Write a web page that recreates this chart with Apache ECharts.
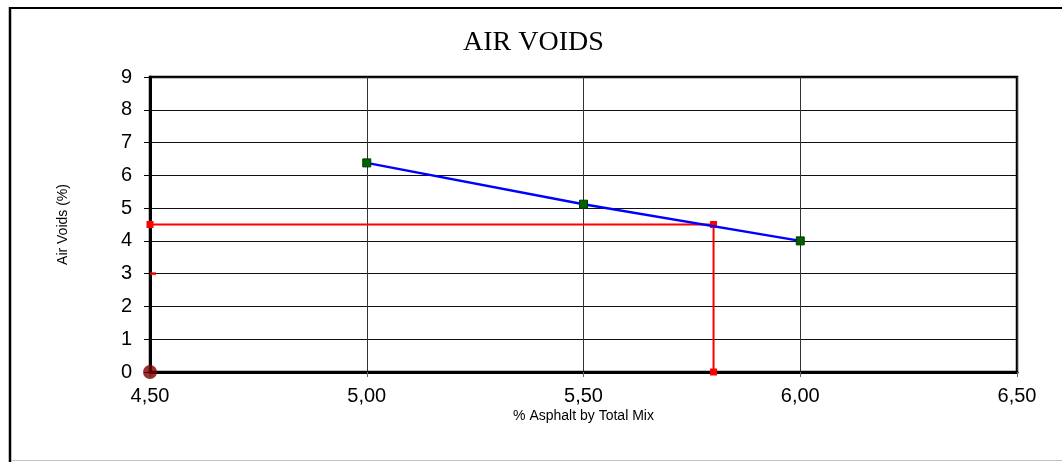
<!DOCTYPE html>
<html>
<head>
<meta charset="utf-8">
<script src="https://cdn.jsdelivr.net/npm/echarts@6/dist/echarts.min.js"></script>
<style>
  html, body { margin: 0; padding: 0; background: #fff; }
  #chart { width: 1062px; height: 462px; }
</style>
</head>
<body>
<div id="chart"></div>
<script>
// Asphalt content (% by total mix) and measured air voids (%)
const asphaltContent = [5.00, 5.50, 6.00];
const airVoids = [6.38, 5.12, 4.00];

const targetVoids = 4.5;
const optimumAsphalt = 5.80;
const lowerLimitVoids = 3.0;

// Axis ranges and ticks
const xMin = 4.5, xMax = 6.5, xStep = 0.5;
const yMin = 0, yMax = 9, yStep = 1;

const voidsCurve = asphaltContent.map((a, i) => [a, airVoids[i]]);
const targetPath = [[xMin, targetVoids], [optimumAsphalt, targetVoids], [optimumAsphalt, yMin]];

const chart = echarts.init(document.getElementById('chart'), null, { renderer: 'canvas' });

chart.setOption({
  animation: false,
  backgroundColor: '#fff',
  title: {
    text: 'AIR VOIDS',
    left: 458,
    top: 24,
    textStyle: { fontFamily: 'Liberation Serif', fontSize: 28, fontWeight: 'normal', color: '#000' }
  },
  graphic: [
    { type: 'line', shape: { x1: 10, y1: 7, x2: 10, y2: 462 }, style: { stroke: '#000', lineWidth: 2.5 } },
    { type: 'line', shape: { x1: 9, y1: 8, x2: 1062, y2: 8 }, style: { stroke: '#000', lineWidth: 2 } },
    { type: 'line', shape: { x1: 11, y1: 460.5, x2: 1062, y2: 460.5 }, style: { stroke: '#c0c0c0', lineWidth: 1 } }
  ],
  grid: {
    left: 150, right: 45, top: 77, bottom: 90,
    show: true, borderColor: '#000', borderWidth: 2.5, backgroundColor: '#fff'
  },
  xAxis: {
    type: 'value',
    min: xMin, max: xMax, interval: xStep,
    name: '% Asphalt by Total Mix',
    nameLocation: 'middle',
    nameGap: 37,
    nameMoveOverlap: false,
    nameTextStyle: { fontFamily: 'Liberation Sans', fontSize: 14, color: '#000' },
    axisLine: { show: true, lineStyle: { color: '#000', width: 3 } },
    axisTick: { show: true, length: 5, lineStyle: { color: '#666', width: 1 } },
    axisLabel: {
      fontFamily: 'Liberation Sans', fontSize: 20, color: '#000', margin: 14,
      formatter: v => v.toFixed(2).replace('.', ',')
    },
    splitLine: { show: true, lineStyle: { color: '#333', width: 1 } }
  },
  yAxis: {
    type: 'value',
    min: yMin, max: yMax, interval: yStep,
    name: 'Air Voids (%)',
    nameLocation: 'middle',
    nameGap: 80,
    nameMoveOverlap: false,
    nameTextStyle: { fontFamily: 'Liberation Sans', fontSize: 14, color: '#000' },
    axisLine: { show: true, lineStyle: { color: '#000', width: 3 } },
    axisTick: { show: true, length: 6, lineStyle: { color: '#000', width: 1 } },
    axisLabel: { fontFamily: 'Liberation Sans', fontSize: 20, color: '#000', margin: 18 },
    splitLine: { show: true, lineStyle: { color: '#111', width: 1 } }
  },
  series: [
    {
      name: 'target',
      type: 'line',
      data: targetPath,
      clip: false,
      symbol: 'rect',
      symbolSize: 7,
      itemStyle: { color: '#ff0000' },
      lineStyle: { color: '#ff0000', width: 2 },
      z: 3
    },
    {
      name: 'lower limit',
      type: 'scatter',
      data: [[xMin, lowerLimitVoids]],
      clip: false,
      symbol: 'rect',
      symbolSize: [6, 3],
      symbolOffset: [3, 0],
      itemStyle: { color: '#ff0000' },
      z: 3
    },
    {
      name: 'voids',
      type: 'line',
      data: voidsCurve,
      clip: false,
      symbol: 'rect',
      symbolSize: 8,
      itemStyle: { color: '#006400', borderColor: '#003a00', borderWidth: 1 },
      lineStyle: { color: '#0000ff', width: 2.5 },
      z: 4
    },
    {
      name: 'origin',
      type: 'scatter',
      data: [[xMin, yMin]],
      clip: false,
      symbol: 'circle',
      symbolSize: 14,
      itemStyle: { color: '#7a0000' },
      z: 5
    }
  ]
});
</script>
</body>
</html>
